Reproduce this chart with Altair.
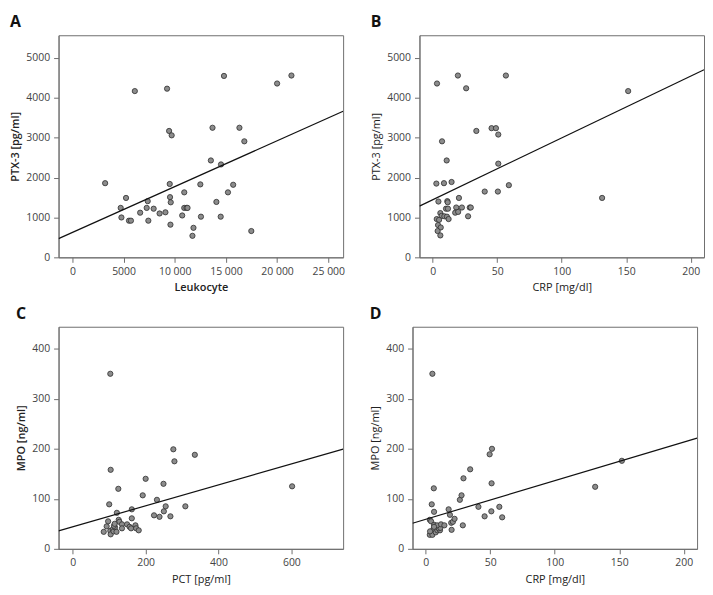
import altair as alt
import pandas as pd

# ---------------- data ----------------
A_leuk = [3200, 4720, 4790, 5240, 5530, 5720, 6100, 6620, 7260, 7360,
          7420, 7940, 8520, 9090, 9250, 9450, 9510, 9540, 9610, 9580,
          9700, 10730, 10930, 10930, 11150, 11250, 11730, 11830, 12500, 12560,
          13530, 13690, 14070, 14490, 14520, 14810, 15200, 15710, 16320, 16800,
          17480, 20000, 21400]
A_ptx = [1860, 1240, 1000, 1490, 920, 920, 4170, 1120, 1240, 1410,
         920, 1220, 1100, 1130, 4230, 3170, 1840, 1510, 1380, 820,
         3060, 1050, 1630, 1240, 1240, 1240, 540, 740, 1830, 1020,
         2430, 3250, 1390, 1020, 2330, 4550, 1630, 1820, 3250, 2910,
         660, 4360, 4560]

B_crp = [2.8, 8.7, 14.6, 40.3, 50.5, 4.4, 11.3, 20.3, 10.3, 11.8,
         18.2, 22.6, 28.7, 29.5, 17.4, 19.7, 27.4, 5.9, 6.9, 9.0,
         11.0, 12.3, 3.1, 4.9, 4.1, 6.2, 3.8, 5.9, 3.3, 7.2,
         10.8, 19.5, 25.9, 33.8, 45.6, 49.0, 50.8, 50.8, 56.7, 59.0,
         131.3, 151.5, 11.6]
B_ptx = [1850, 1860, 1890, 1650, 1650, 1400, 1410, 1490, 1220, 1220,
         1250, 1250, 1250, 1250, 1120, 1140, 1030, 1110, 1040, 1030,
         1020, 960, 960, 940, 810, 750, 660, 550, 4360, 2910,
         2430, 4560, 4240, 3170, 3240, 3240, 3080, 2350, 4560, 1810,
         1490, 4170, 1380]

C_pct = [85, 93, 97, 100, 103, 104, 103, 104, 110, 112,
         116, 120, 121, 125, 126, 128, 135, 135, 149, 156,
         160, 162, 162, 172, 174, 181, 192, 200, 223, 231,
         238, 249, 250, 255, 268, 276, 279, 309, 335, 602,
         113, 115]
C_mpo = [34, 45, 55, 89, 36, 29, 350, 158, 39, 35,
         43, 34, 72, 120, 58, 54, 49, 41, 49, 44,
         41, 61, 79, 47, 41, 37, 107, 140, 67, 98,
         64, 130, 75, 85, 65, 199, 175, 85, 188, 125,
         46, 50]

D_crp = [3.1, 4.1, 4.1, 3.1, 5.1, 5.9, 7.7, 9.0, 11.0, 10.0,
         11.3, 6.4, 8.7, 11.8, 14.4, 4.6, 6.4, 6.2, 5.1, 17.7,
         18.7, 19.7, 20.0, 21.0, 22.3, 26.4, 27.7, 28.7, 29.2, 34.4,
         40.8, 45.6, 49.5, 50.8, 51.0, 51.3, 57.0, 59.2, 131.3, 152.0,
         3.3, 6.4]
D_mpo = [58, 55, 32, 28, 28, 39, 33, 37, 37, 41,
         42, 48, 47, 49, 47, 89, 74, 121, 350, 79,
         68, 52, 38, 54, 60, 98, 107, 47, 141, 159,
         84, 65, 189, 75, 131, 200, 84, 63, 124, 176,
         35, 44]

# fitted lines (intercept, slope)
fit_A = (625, 0.1149)
fit_B = (1445, 15.5)
fit_C = (44.2, 0.209)
fit_D = (59.1, 0.771)

# axis domains and ticks
A_xdom, A_xticks = [-1350, 26450], [0, 5000, 10000, 15000, 20000, 25000]
BD_xdom, BD_xticks = [-10.3, 210.3], [0, 50, 100, 150, 200]
C_xdom, C_xticks = [-39, 742], [0, 200, 400, 600]
PTX_ydom, PTX_yticks = [0, 5570], [0, 1000, 2000, 3000, 4000, 5000]
MPO_ydom, MPO_yticks = [0, 444], [0, 100, 200, 300, 400]

FONT = "Open Sans"
W, H = 287, 224


def panel(xs, ys, fit, xdom, xticks, ydom, yticks, xtitle, ytitle, letter,
          xbold=False, ybold=False, xlabelexpr=None):
    pts = pd.DataFrame({"x": xs, "y": ys})
    b0, b1 = fit
    ln = pd.DataFrame({"x": xdom, "y": [b0 + b1 * v for v in xdom]})
    xaxis_kw = dict(values=xticks, title=xtitle, format="d",
                    titleFontWeight=600 if xbold else "normal")
    if xlabelexpr:
        xaxis_kw["labelExpr"] = xlabelexpr
    xenc = alt.X("x:Q", scale=alt.Scale(domain=xdom, nice=False, zero=False),
                 axis=alt.Axis(**xaxis_kw))
    yenc = alt.Y("y:Q", scale=alt.Scale(domain=ydom, nice=False, zero=False),
                 axis=alt.Axis(values=yticks, title=ytitle, format="d",
                               titleFontWeight=600 if ybold else "normal"))
    points = alt.Chart(pts).mark_circle(
        size=28, color="#8c8c8c", stroke="#2e2e2e", strokeWidth=0.8, opacity=1
    ).encode(x=xenc, y=yenc)
    line = alt.Chart(ln).mark_line(color="#111111", strokeWidth=1.2, clip=True).encode(
        x="x:Q", y="y:Q")
    return alt.layer(points, line).properties(
        width=W, height=H,
        title=alt.TitleParams(letter, anchor="start", frame="bounds", fontSize=16,
                              fontWeight="bold", font=FONT, color="#111111",
                              offset=5))


sep_expr = "datum.value >= 10000 ? replace(format(datum.value, ','), ',', ' ') : format(datum.value, 'd')"

pA = panel(A_leuk, A_ptx, fit_A, A_xdom, A_xticks, PTX_ydom, PTX_yticks,
           "Leukocyte", "PTX-3 [pg/ml]", "A", xbold=True, ybold=True, xlabelexpr=sep_expr)
pB = panel(B_crp, B_ptx, fit_B, BD_xdom, BD_xticks, PTX_ydom, PTX_yticks,
           "CRP [mg/dl]", "PTX-3 [pg/ml]", "B")
pC = panel(C_pct, C_mpo, fit_C, C_xdom, C_xticks, MPO_ydom, MPO_yticks,
           "PCT [pg/ml]", "MPO [ng/ml]", "C", ybold=True)
pD = panel(D_crp, D_mpo, fit_D, BD_xdom, BD_xticks, MPO_ydom, MPO_yticks,
           "CRP [mg/dl]", "MPO [ng/ml]", "D")

chart = alt.vconcat(
    alt.hconcat(pA, pB, spacing=25),
    alt.hconcat(pC, pD, spacing=25),
    spacing=12,
).properties(
    padding={"left": 1, "top": 3, "right": 0, "bottom": 0}
).configure_view(
    stroke="#6e6e6e", strokeWidth=1
).configure_axis(
    grid=False, domainColor="#6e6e6e", tickColor="#6e6e6e", tickSize=5,
    labelFont=FONT, labelFontSize=10.5, labelColor="#444444", labelPadding=4,
    titleFont=FONT, titleFontSize=11, titleColor="#222222", titlePadding=5,
)

chart.save("out.html", embed_options={"renderer": "svg", "actions": False})
